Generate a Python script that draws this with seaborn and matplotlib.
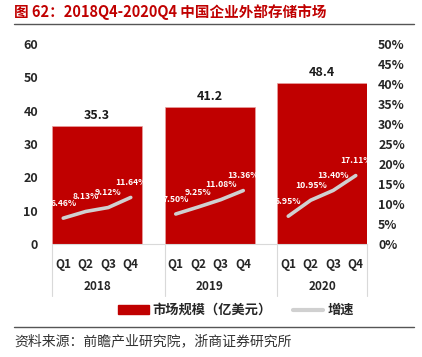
import matplotlib
matplotlib.use("Agg")
import matplotlib.pyplot as plt
from matplotlib.lines import Line2D
from matplotlib.patches import Patch
import seaborn as sns
import numpy as np
import pandas as pd

sns.set_style("white")
plt.rcParams['font.family'] = ['Noto Sans CJK SC', 'DejaVu Sans']

# data
years = ["2018", "2019", "2020"]
quarters = ["Q1", "Q2", "Q3", "Q4"]
market_size = [35.3, 41.2, 48.4]
growth = [
    [6.46, 8.13, 9.12, 11.64],
    [7.50, 9.25, 11.08, 13.36],
    [6.95, 10.95, 13.40, 17.11],
]

red = "#C00000"
grey_line = "#D0D0D0"

# category layout: 4 quarters per year with one blank slot between years
year_start = [0, 5, 10]
bar_df = pd.DataFrame({"x": [s + 1.5 for s in year_start], "size": market_size})
rows = []
for y, s, g in zip(years, year_start, growth):
    for i, v in enumerate(g):
        rows.append({"year": y, "x": s + i, "rate": v / 100})
line_df = pd.DataFrame(rows)

fig = plt.figure(figsize=(4.22, 3.57), dpi=100)
ax = fig.add_axes([52 / 422, 113 / 357, 315 / 422, 200 / 357])

sns.barplot(data=bar_df, x="x", y="size", native_scale=True, width=0.8,
            color=red, saturation=1, edgecolor="#E8A0A0", linewidth=0.5, ax=ax)
ax.set_xlim(-0.5, 13.5)
ax.set_ylim(0, 60)
ax.set_yticks(range(0, 61, 10))
ax.set_yticklabels([str(v) for v in range(0, 61, 10)], fontsize=9, fontweight="bold")
ax.tick_params(axis="y", length=0, pad=10)
ax.set_xlabel("")
ax.set_ylabel("")

for xv, v in zip(bar_df["x"], market_size):
    ax.text(xv, v + 1.2, f"{v:.1f}", ha="center", va="bottom",
            fontsize=9, fontweight="bold", color="#1a1a1a")

xt = [s + i for s in year_start for i in range(4)]
ax.set_xticks(xt)
ax.set_xticklabels(quarters * 3, fontsize=8.5, fontweight="bold")
ax.tick_params(axis="x", length=0, pad=10)

for side in ["top", "left", "right"]:
    ax.spines[side].set_visible(False)
ax.spines["bottom"].set_color("#D9D9D9")
ax.spines["bottom"].set_linewidth(0.8)

trans = matplotlib.transforms.blended_transform_factory(ax.transData, ax.transAxes)
for xs in [-0.5, 4.5, 9.5, 13.5]:
    ax.add_line(Line2D([xs, xs], [0, -0.26], transform=trans, color="#D9D9D9",
                       lw=0.8, clip_on=False))
for y, s in zip(years, year_start):
    ax.text(s + 1.5, -0.215, y, transform=trans, ha="center", va="center",
            fontsize=8.5, fontweight="bold")

ax2 = ax.twinx()
sns.lineplot(data=line_df, x="x", y="rate", hue="year", palette=[grey_line] * 3,
             linewidth=2.6, legend=False, ax=ax2, solid_capstyle="round")
ax2.set_ylim(0, 0.5)
ax2.set_yticks(np.arange(0, 0.51, 0.05))
ax2.set_yticklabels([f"{int(round(v * 100))}%" for v in np.arange(0, 0.51, 0.05)],
                    fontsize=9, fontweight="bold")
ax2.tick_params(axis="y", length=0, pad=8)
ax2.set_xlabel("")
ax2.set_ylabel("")
for side in ["top", "left", "right", "bottom"]:
    ax2.spines[side].set_visible(False)

for _, r in line_df.iterrows():
    ax2.text(r["x"], r["rate"] + 0.037, f"{r['rate'] * 100:.2f}%", ha="center",
             va="center", fontsize=6.2, fontweight="bold", color="white")

# title, rules, legend, source
fig.text(14 / 422, 1 - 12 / 357, "图 62：2018Q4-2020Q4 中国企业外部存储市场",
         ha="left", va="center", fontsize=10.5, fontweight="bold", color=red)
fig.add_artist(Line2D([14 / 422, 414 / 422], [1 - 24 / 357] * 2, color="#555555", lw=1))
fig.add_artist(Line2D([14 / 422, 414 / 422], [1 - 327 / 357] * 2, color="#555555", lw=1))

handles = [Patch(facecolor=red, edgecolor=red),
           Line2D([0], [0], color=grey_line, lw=3)]
fig.legend(handles, ["市场规模（亿美元）", "增速"], loc="center",
           bbox_to_anchor=(236 / 422, 1 - 310 / 357), ncol=2, frameon=False,
           prop={"size": 9.5, "weight": "bold"}, handlelength=2.3,
           handleheight=0.6, columnspacing=1.6, handletextpad=0.3)

fig.text(14 / 422, 1 - 341 / 357, "资料来源：前瞻产业研究院，浙商证券研究所",
         ha="left", va="center", fontsize=10, color="#333333")

fig.savefig("out.png", dpi=100)
